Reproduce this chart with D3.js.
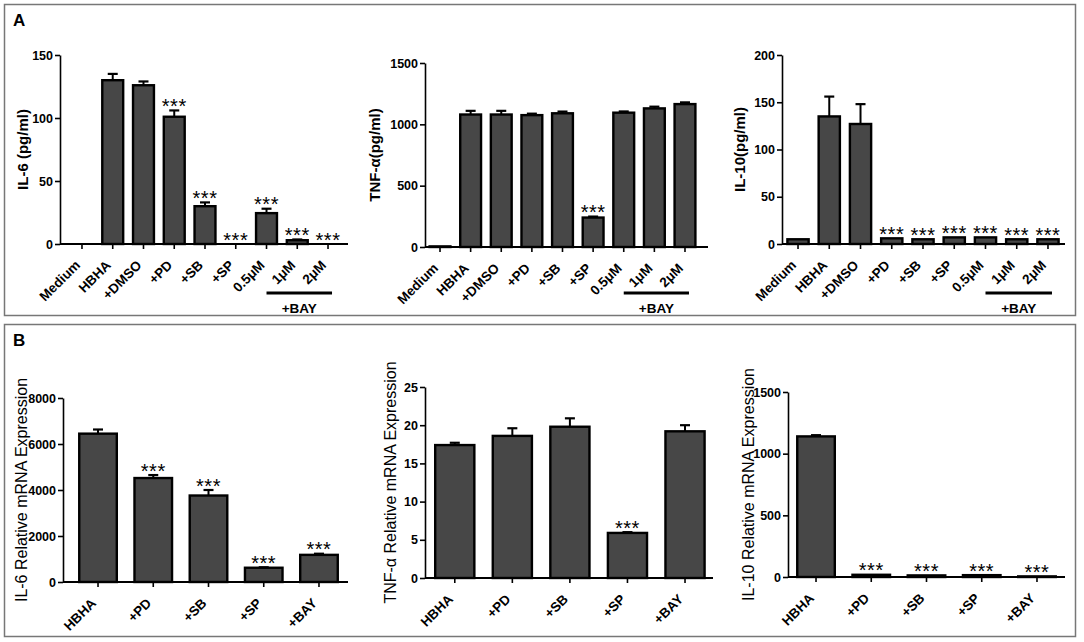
<!DOCTYPE html>
<html>
<head>
<meta charset="utf-8">
<script src="https://cdn.jsdelivr.net/npm/d3@7"></script>
<style>
  body { margin: 0; background: #fff; }
  text { font-family: Arial, "Liberation Sans", sans-serif; }
</style>
</head>
<body>
<svg id="fig" width="1084" height="642"></svg>
<script>
// categories
const proteinGroups = ["Medium", "HBHA", "+DMSO", "+PD", "+SB", "+SP", "0.5\u03BCM", "1\u03BCM", "2\u03BCM"];
const mrnaGroups = ["HBHA", "+PD", "+SB", "+SP", "+BAY"];

// panel A - protein (pg/ml), mean and SEM
const il6Protein = [0, 130, 126, 101, 30, 0, 24.5, 3, 0];
const il6ProteinErr = [0, 5, 3, 5, 3, 0, 3.5, 0.6, 0];
const il6ProteinSig = ["", "", "", "***", "***", "***", "***", "***", "***"];

const tnfProtein = [5, 1080, 1080, 1075, 1090, 240, 1095, 1130, 1165];
const tnfProteinErr = [0, 30, 30, 12, 14, 8, 10, 14, 14];
const tnfProteinSig = ["", "", "", "", "", "***", "", "", ""];

const il10Protein = [5, 135, 127, 6, 5, 7, 7, 5, 5];
const il10ProteinErr = [0, 21, 21, 0, 0, 0, 0, 0, 0];
const il10ProteinSig = ["", "", "", "***", "***", "***", "***", "***", "***"];

// panel B - relative mRNA expression
const il6Mrna = [6450, 4520, 3760, 620, 1180];
const il6MrnaErr = [180, 130, 240, 20, 50];
const il6MrnaSig = ["", "***", "***", "***", "***"];

const tnfMrna = [17.4, 18.6, 19.8, 5.9, 19.2];
const tnfMrnaErr = [0.3, 1.0, 1.1, 0.1, 0.8];
const tnfMrnaSig = ["", "", "", "***", ""];

const il10Mrna = [1140, 18, 13, 15, 5];
const il10MrnaErr = [10, 0, 0, 0, 0];
const il10MrnaSig = ["", "***", "***", "***", "***"];

// tick labels
const il6ProteinTicks = [0, 50, 100, 150];
const tnfProteinTicks = [0, 500, 1000, 1500];
const il10ProteinTicks = [0, 50, 100, 150, 200];
const il6MrnaTicks = [0, 2000, 4000, 6000, 8000];
const tnfMrnaTicks = [0, 5, 10, 15, 20, 25];
const il10MrnaTicks = [0, 500, 1000, 1500];

const bayGroups = ["0.5\u03BCM", "1\u03BCM", "2\u03BCM"];

const svg = d3.select("#fig");

// panel frames
svg.append("rect").attr("x", 4.5).attr("y", 4.5).attr("width", 1071).attr("height", 311)
    .attr("fill", "none").attr("stroke", "#777").attr("stroke-width", 1.5);
svg.append("rect").attr("x", 4.5).attr("y", 324.5).attr("width", 1071).attr("height", 312)
    .attr("fill", "none").attr("stroke", "#777").attr("stroke-width", 1.5);
svg.append("text").attr("x", 13).attr("y", 26).attr("font-size", 17).attr("font-weight", "bold").text("A");
svg.append("text").attr("x", 13).attr("y", 346).attr("font-size", 17).attr("font-weight", "bold").text("B");

function drawBars(cfg) {
    const x = d3.scaleBand().domain(cfg.groups).range(cfg.band)
        .paddingInner(0.32).paddingOuter(0.16);
    const y = d3.scaleLinear().domain([0, d3.max(cfg.ticks)]).range([cfg.y0, cfg.y1]);
    const g = svg.append("g");
    const data = cfg.groups.map((k, i) => ({ k, v: cfg.values[i], e: cfg.errors[i], s: cfg.sig[i] }));
    const cx = d => x(d.k) + x.bandwidth() / 2;

    // error bars (behind the bar outline)
    const eb = data.filter(d => d.e > 0);
    g.selectAll(".err").data(eb).join("line")
        .attr("x1", cx).attr("x2", cx)
        .attr("y1", d => y(d.v)).attr("y2", d => y(d.v + d.e))
        .attr("stroke", "#000").attr("stroke-width", 2);
    g.selectAll(".cap").data(eb).join("line")
        .attr("x1", d => cx(d) - 5).attr("x2", d => cx(d) + 5)
        .attr("y1", d => y(d.v + d.e)).attr("y2", d => y(d.v + d.e))
        .attr("stroke", "#000").attr("stroke-width", 2.2);

    // bars
    g.selectAll(".bar").data(data.filter(d => d.v > 0)).join("rect")
        .attr("x", d => x(d.k)).attr("width", x.bandwidth())
        .attr("y", d => y(d.v)).attr("height", d => y(0) - y(d.v))
        .attr("fill", "#474747").attr("stroke", "#000").attr("stroke-width", 2.4);

    // significance stars
    g.selectAll(".sig").data(data.filter(d => d.s)).join("text")
        .attr("x", cx).attr("y", d => y(d.v + d.e) + 2.5)
        .attr("text-anchor", "middle").attr("font-size", 20).attr("letter-spacing", 0.5)
        .text(d => d.s);

    // y axis
    const ya = g.append("g").attr("transform", `translate(${cfg.axisX},0)`)
        .call(d3.axisLeft(y).tickValues(cfg.ticks).tickFormat(d3.format("d"))
            .tickSize(5).tickSizeOuter(0).tickPadding(2));
    ya.select(".domain").attr("stroke-width", 1.6);
    ya.selectAll(".tick line").attr("stroke-width", 1.6);
    ya.selectAll(".tick text").attr("font-size", 12.5).attr("font-weight", "bold")
        .attr("font-family", "Arial, 'Liberation Sans', sans-serif").attr("fill", "#000");

    // x axis
    const xa = g.append("g").attr("transform", `translate(0,${cfg.y0})`)
        .call(d3.axisBottom(x).tickSize(5).tickSizeOuter(0));
    xa.select(".domain").remove();
    xa.selectAll(".tick line").attr("stroke-width", 1.6);
    xa.selectAll(".tick text")
        .attr("font-size", 13.5).attr("font-weight", "bold")
        .attr("font-family", "Arial, 'Liberation Sans', sans-serif").attr("fill", "#000")
        .attr("text-anchor", "end")
        .attr("x", 0).attr("y", 0).attr("dy", 0)
        .attr("transform", "translate(-1,22) rotate(-45)");
    g.append("line").attr("x1", cfg.axisX).attr("x2", cfg.axisEnd)
        .attr("y1", cfg.y0).attr("y2", cfg.y0)
        .attr("stroke", "#000").attr("stroke-width", 1.8);

    // y label
    const mid = (cfg.y0 + cfg.y1) / 2;
    g.append("text")
        .attr("transform", `translate(${cfg.labelX},${mid}) rotate(-90)`)
        .attr("text-anchor", "middle")
        .attr("font-size", cfg.labelSize).attr("font-weight", cfg.labelWeight)
        .text(cfg.label);

    // +BAY bracket
    if (cfg.bay) {
        const bx1 = x(bayGroups[0]) + x.bandwidth() / 2;
        const bx2 = x(bayGroups[bayGroups.length - 1]) + x.bandwidth() / 2 + 4;
        g.append("line").attr("x1", bx1).attr("x2", bx2).attr("y1", 293).attr("y2", 293)
            .attr("stroke", "#000").attr("stroke-width", 3);
        g.append("text").attr("x", (bx1 + bx2) / 2).attr("y", 313)
            .attr("text-anchor", "middle").attr("font-size", 13.5).attr("font-weight", "bold")
            .text("+BAY");
    }
}

drawBars({ groups: proteinGroups, values: il6Protein, errors: il6ProteinErr, sig: il6ProteinSig,
    ticks: il6ProteinTicks, band: [66.6, 343.4], y0: 244, y1: 55, axisX: 60, axisEnd: 348,
    label: "IL-6 (pg/ml)", labelX: 28, labelSize: 15, labelWeight: "bold", bay: true });
drawBars({ groups: proteinGroups, values: tnfProtein, errors: tnfProteinErr, sig: tnfProteinSig,
    ticks: tnfProteinTicks, band: [424.7, 700.3], y0: 247, y1: 63, axisX: 425, axisEnd: 708,
    label: "TNF-\u03B1(pg/ml)", labelX: 380, labelSize: 15, labelWeight: "bold", bay: true });
drawBars({ groups: proteinGroups, values: il10Protein, errors: il10ProteinErr, sig: il10ProteinSig,
    ticks: il10ProteinTicks, band: [782.4, 1063.6], y0: 244, y1: 55, axisX: 782, axisEnd: 1065,
    label: "IL-10(pg/ml)", labelX: 745, labelSize: 15, labelWeight: "bold", bay: true });

drawBars({ groups: mrnaGroups, values: il6Mrna, errors: il6MrnaErr, sig: il6MrnaSig,
    ticks: il6MrnaTicks, band: [70.4, 346.6], y0: 582, y1: 398, axisX: 63, axisEnd: 348,
    label: "IL-6 Relative mRNA Expression", labelX: 27, labelSize: 16, labelWeight: "normal", bay: false });
drawBars({ groups: mrnaGroups, values: tnfMrna, errors: tnfMrnaErr, sig: tnfMrnaSig,
    ticks: tnfMrnaTicks, band: [426, 713.8], y0: 578, y1: 387, axisX: 425, axisEnd: 713,
    label: "TNF-\u03B1 Relative mRNA Expression", labelX: 396, labelSize: 16, labelWeight: "normal", bay: false });
drawBars({ groups: mrnaGroups, values: il10Mrna, errors: il10MrnaErr, sig: il10MrnaSig,
    ticks: il10MrnaTicks, band: [788.4, 1064.6], y0: 577, y1: 392, axisX: 788, axisEnd: 1065,
    label: "IL-10 Relative mRNA Expression", labelX: 754, labelSize: 16, labelWeight: "normal", bay: false });
</script>
</body>
</html>
